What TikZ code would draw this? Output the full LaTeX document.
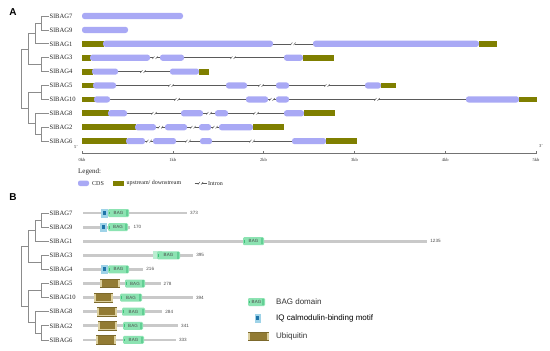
\documentclass[tikz,border=0pt]{standalone}
\usepackage{fontspec}
\setmainfont{Liberation Serif}
\setsansfont{Liberation Sans}
\definecolor{cdscol}{HTML}{A9A9F5}
\definecolor{utrcol}{HTML}{7F7F00}
\definecolor{intcol}{HTML}{5A5A5A}
\definecolor{treecol}{HTML}{8C8C8C}
\definecolor{protcol}{HTML}{C9C9C9}
\definecolor{bagcol}{HTML}{8CE3B2}
\definecolor{bagdark}{HTML}{3CC37A}
\definecolor{iqlight}{HTML}{9FD3E8}
\definecolor{iqdark}{HTML}{1F74A8}
\definecolor{ubilight}{HTML}{DCD0A0}
\definecolor{ubidark}{HTML}{927B34}
\newcommand\brk[2]{\fill[white] (#1-1.6,#2-1.2) rectangle (#1+1.6,#2+1.2);
  \draw[intcol,line width=0.45pt] (#1-2.6,#2+1.3) -- (#1-0.6,#2-1.3) (#1+0.6,#2+1.3) -- (#1+2.6,#2-1.3);}
\newcommand\cds[3]{\fill[cdscol,rounded corners=2.6pt] (#1,#3-3.1) rectangle (#2,#3+3.1);}
\newcommand\utr[3]{\fill[utrcol] (#1,#3-2.9) rectangle (#2,#3+2.9);}
\newcommand\intr[4]{\draw[intcol,line width=0.6pt] (#1,#3) -- (#2,#3); \brk{#4}{#3}}
\newcommand\bagbox[3]{\fill[bagcol,rounded corners=1.2pt] (#1,#3-4) rectangle (#2,#3+4);
  \fill[bagdark] (#1+1.2,#3-1.4) rectangle (#1+2.4,#3+1.4);
  \fill[bagdark!80] (#2-2.6,#3-3.2) rectangle (#2-1,#3+3.2);
  \node[font=\sffamily\fontsize{4.5}{4.5}\selectfont,text=black!70,inner sep=0pt] at ({(#1+#2)/2},#3) {BAG};}
\newcommand\iqbox[3]{\fill[iqlight] (#1,#3-4.5) rectangle (#2,#3+4.5);
  \fill[iqdark] ({(#1+#2)/2-1.6},#3-2) rectangle ({(#1+#2)/2+1.6},#3+1.5);}
\newcommand\ubibox[3]{\fill[ubilight] (#1,#3-4.5) rectangle (#2,#3+4.5);
  \fill[ubidark] (#1+2,#3-3.6) rectangle (#2-2,#3+3.6);
  \draw[ubidark!85!black,line width=0.5pt] (#1,#3-4.2) -- (#2,#3-4.2) (#1,#3+4.2) -- (#2,#3+4.2);}
\tikzset{
  lab/.style={font=\fontsize{6.6}{7}\selectfont,anchor=west,inner sep=0.5pt,text=black!85},
  treeline/.style={treecol,line width=0.7pt},
  num/.style={font=\sffamily\fontsize{4.6}{5}\selectfont,anchor=west,inner sep=0.5pt,text=black!70},
  tick/.style={font=\fontsize{4.5}{5}\selectfont,inner sep=0.5pt,text=black!80},
  legB/.style={font=\sffamily\fontsize{8}{9}\selectfont,anchor=west,inner sep=0pt,text=black!80},
  legA/.style={font=\fontsize{6}{7}\selectfont,anchor=west,inner sep=0pt,text=black!85},
  panel/.style={font=\sffamily\bfseries\fontsize{10}{11}\selectfont,inner sep=0pt}
}
\newcommand\gtree[3]{%
  \foreach \n/\i in {7/0,9/1,1/2,3/3,4/4,5/5,10/6,8/7,2/8,6/9}{
    \node[lab] (#1\n) at (49,#2+\i*#3) {SlBAG\n};}
  \coordinate (#1c79) at (41,#2+0.5*#3);
  \coordinate (#1c791) at (35,#2+1.25*#3);
  \coordinate (#1c34) at (41,#2+3.5*#3);
  \coordinate (#1cup) at (28,#2+2.375*#3);
  \coordinate (#1c510) at (41,#2+5.5*#3);
  \coordinate (#1c26) at (41,#2+8.5*#3);
  \coordinate (#1c826) at (35,#2+7.75*#3);
  \coordinate (#1clow) at (28,#2+6.625*#3);
  \draw[treeline] (#17.west) -- ++(-8,0) |- (#19.west);
  \draw[treeline] (#1c79) -- ++(-6,0) |- (#11.west);
  \draw[treeline] (#13.west) -- ++(-8,0) |- (#14.west);
  \draw[treeline] (#1c791) -- ++(-7,0) |- (#1c34);
  \draw[treeline] (#15.west) -- ++(-8,0) |- (#110.west);
  \draw[treeline] (#12.west) -- ++(-8,0) |- (#16.west);
  \draw[treeline] (#1c26) -- ++(-6,0) |- (#18.west);
  \draw[treeline] (#1c510) -- ++(-13,0) |- (#1c826);
  \draw[treeline] (#1cup) -- ++(-7,0) |- (#1clow);
}
\begin{document}
\begin{tikzpicture}[x=1pt,y=-1pt]
\useasboundingbox (0,0) rectangle (550,351);
\fill[white] (0,0) rectangle (550,351);
% ---------------- Panel A
\node[panel] (pA) at (13,12) {A};
\gtree{A}{16}{13.9}
% SlBAG7
\cds{82}{183}{16}
% SlBAG9
\cds{82}{128}{29.9}
% SlBAG1
\intr{273}{313}{43.8}{293}
\utr{82}{104}{43.8}\cds{103}{273}{43.8}\cds{313}{479}{43.8}\utr{478.5}{497}{43.8}
% SlBAG3
\intr{150}{160}{57.7}{155}\intr{184}{284}{57.7}{233}
\utr{82}{91}{57.7}\cds{90}{150}{57.7}\cds{160}{184}{57.7}\cds{284}{303}{57.7}\utr{302.5}{334}{57.7}
% SlBAG4
\intr{118}{170}{71.6}{143}
\utr{82}{93}{71.6}\cds{92}{118}{71.6}\cds{170}{199}{71.6}\utr{198.5}{209}{71.6}
% SlBAG5
\intr{116}{226}{85.5}{171}\intr{247}{276}{85.5}{261}\intr{289}{365}{85.5}{327}
\utr{82}{94}{85.5}\cds{93}{116}{85.5}\cds{226}{247}{85.5}\cds{276}{289}{85.5}\cds{365}{381}{85.5}\utr{380.5}{396}{85.5}
% SlBAG10
\intr{110}{246}{99.4}{177}\intr{268}{276}{99.4}{272}\intr{289}{466}{99.4}{377}
\utr{82}{95}{99.4}\cds{94}{110}{99.4}\cds{246}{268}{99.4}\cds{276}{289}{99.4}\cds{466}{519}{99.4}\utr{518.5}{537}{99.4}
% SlBAG8
\intr{127}{181}{113.3}{154}\intr{203}{215}{113.3}{209}\intr{228}{284}{113.3}{256}
\utr{82}{109}{113.3}\cds{108}{127}{113.3}\cds{181}{203}{113.3}\cds{215}{228}{113.3}\cds{284}{304}{113.3}\utr{303.5}{335}{113.3}
% SlBAG2
\intr{156}{165}{127.2}{160.5}\intr{187}{199}{127.2}{193}\intr{211}{219}{127.2}{215}
\utr{82}{136}{127.2}\cds{135}{156}{127.2}\cds{165}{187}{127.2}\cds{199}{211}{127.2}\cds{219}{253}{127.2}\utr{252.5}{284}{127.2}
% SlBAG6
\intr{145}{153}{141.1}{149}\intr{176}{200}{141.1}{188}\intr{212}{292}{141.1}{252}
\utr{82}{127}{141.1}\cds{126}{145}{141.1}\cds{153}{176}{141.1}\cds{200}{212}{141.1}\cds{292}{326}{141.1}\utr{325.5}{357}{141.1}
% axis
\coordinate (ax0) at (82,153.5);
\coordinate (ax5) at (536,153.5);
\draw[black!55,line width=0.6pt] (ax0) -- (ax5);
\foreach \k in {0,...,5}{
  \draw[black!55,line width=0.5pt] (82+\k*90.8,153.5) -- (82+\k*90.8,151.3);
  \node[tick] (tk\k) at (82+\k*90.8,159.5) {\k kb};}
\node[tick] (five) at (76,147.5) {5'};
\node[tick] (three) at (541,146.5) {3'};
% legend A
\node[legA,font=\fontsize{7}{8}\selectfont] (legtitle) at (78,172) {Legend:};
\fill[cdscol,rounded corners=2.2pt] (78,180.5) rectangle (89,186);
\node[legA] (lcds) at (92,183.3) {CDS};
\fill[utrcol] (113,180.8) rectangle (124,185.8);
\node[legA] (lutr) at (126.5,183.3) {upstream/ downstream};
\draw[intcol,line width=0.6pt] (194.5,183.3) -- (206.5,183.3); \brk{200.5}{183.3}
\node[legA] (lint) at (208,183.3) {Intron};
% ---------------- Panel B
\node[panel] (pB) at (13,197) {B};
\gtree{B}{213}{14.1}
% protein lines
\foreach \n/\i/\e/\v in {7/0/187/373,9/1/130.4/170,1/2/427.2/1235,3/3/193.1/395,4/4/143.2/216,5/5/160.5/278,10/6/192.8/394,8/7/162.2/284,2/8/178/341,6/9/175.8/333}{
  \draw[protcol,line width=2.8pt] (83,213+\i*14.1) -- (\e,213+\i*14.1);
  \node[num] (len\n) at (\e+2.5,213+\i*14.1) {\v};}
% domains
\iqbox{101}{108}{213}\bagbox{108}{129}{213}
\iqbox{100}{107}{227.1}\bagbox{108}{128}{227.1}
\bagbox{243}{264}{241.2}
\fill[bagcol!60] (153,251.3) rectangle (162,259.3);\bagbox{157}{180}{255.3}
\iqbox{101}{108}{269.4}\bagbox{108}{129}{269.4}
\ubibox{100}{120}{283.5}\bagbox{125}{145}{283.5}
\ubibox{94}{113}{297.6}\bagbox{120}{142}{297.6}
\ubibox{97}{117}{311.7}\bagbox{122}{145}{311.7}
\ubibox{98}{117}{325.8}\bagbox{123}{143}{325.8}
\ubibox{96}{116}{339.9}\bagbox{123}{144}{339.9}
% legend B
\bagbox{248}{265}{302}
\node[legB] (lbag) at (276,302) {BAG domain};
\iqbox{254.5}{261}{318}
\node[legB,text=black] (liq) at (276,318) {IQ calmodulin-binding motif};
\ubibox{248}{269}{336}
\node[legB] (lubi) at (276,336) {Ubiquitin};
\end{tikzpicture}
\end{document}
